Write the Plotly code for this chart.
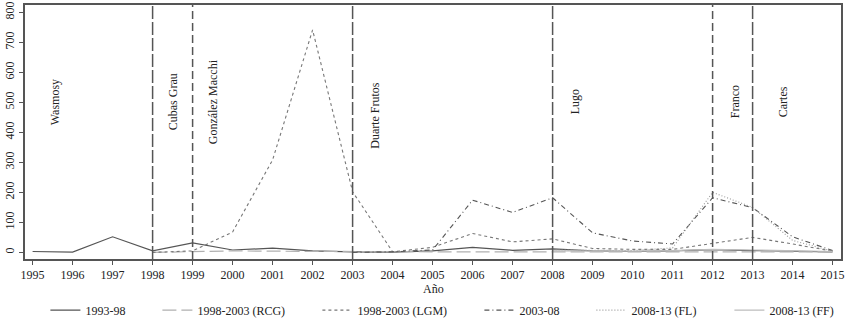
import plotly.graph_objects as go

years = list(range(1995, 2016))

s_1993_98 = [3, 1, 52, 5, 32, 8, 14, 5, 2, 1, 5, 17, 7, 12, 5, 3, 5, 9, 6, 3, 2]
s_rcg_x = list(range(1998, 2016))
s_rcg = [0, 3, 5, 4, 3, 2, 1, 2, 2, 2, 2, 2, 2, 2, 3, 3, 2, 2]
s_lgm_x = list(range(1998, 2016))
s_lgm = [0, 5, 68, 308, 741, 202, 2, 17, 63, 35, 45, 13, 10, 10, 30, 50, 28, 4]
s_0308_x = list(range(2003, 2016))
s_0308 = [0, 2, 8, 174, 133, 182, 65, 38, 28, 182, 149, 52, 6]
s_fl_x = list(range(2008, 2016))
s_fl = [8, 6, 6, 15, 200, 150, 40, 4]
s_ff_x = list(range(2008, 2016))
s_ff = [5, 4, 4, 6, 10, 8, 5, 3]

series_names = ["1993-98", "1998-2003 (RCG)", "1998-2003 (LGM)", "2003-08", "2008-13 (FL)", "2008-13 (FF)"]

break_years = [1998, 1999, 2003, 2008, 2012, 2013]
break_long = [True, False, True, True, False, True]

leaders = ["Wasmosy", "Cubas Grau", "González Macchi", "Duarte Frutos", "Lugo", "Franco", "Cartes"]
leader_x = [1995.56, 1998.51, 1999.51, 2003.56, 2008.56, 2012.56, 2013.76]
leader_y = [500, 500, 500, 455, 500, 500, 500]

yticks = list(range(0, 900, 100))
x_title = "Año"

FONT = "Liberation Serif"

fig = go.Figure()
styles = [
    dict(color="#555555", width=1.2, dash="solid"),
    dict(color="#b0b0b0", width=1.2, dash="14px,5px"),
    dict(color="#777777", width=1.1, dash="3px,3px"),
    dict(color="#555555", width=1.1, dash="5px,3px,1px,3px"),
    dict(color="#999999", width=1.1, dash="1px,2px"),
    dict(color="#bdbdbd", width=1.2, dash="solid"),
]
xs = [years, s_rcg_x, s_lgm_x, s_0308_x, s_fl_x, s_ff_x]
ys = [s_1993_98, s_rcg, s_lgm, s_0308, s_fl, s_ff]
lw = [67, 115, 117, 67, 93, 70]
for name, x, y, st, w in zip(series_names, xs, ys, styles, lw):
    fig.add_trace(go.Scatter(x=x, y=y, mode="lines", name=name, line=st, legendwidth=w))

for yr, lng in zip(break_years, break_long):
    fig.add_shape(type="line", x0=yr, x1=yr, y0=0, y1=1, xref="x", yref="paper",
                  line=dict(color="#555555", width=1.5, dash="13px,3px" if lng else "8px,4px"))

for name, lx, ly in zip(leaders, leader_x, leader_y):
    fig.add_annotation(x=lx, y=ly, text=name, textangle=-90, showarrow=False,
                       font=dict(family=FONT, size=12, color="#222222"))

fig.add_annotation(x=0.5, xref="paper", y=-0.12, yref="paper", yanchor="middle",
                   text=x_title, showarrow=False, font=dict(family=FONT, size=12, color="#222222"))

fig.update_layout(
    width=852, height=322,
    margin=dict(l=25, r=11, t=5, b=63),
    paper_bgcolor="white", plot_bgcolor="white",
    font=dict(family=FONT, size=12, color="#222222"),
    showlegend=True,
    legend=dict(orientation="h", x=0.025, xanchor="left",
                yref="container", y=0.037, yanchor="middle",
                font=dict(family=FONT, size=12, color="#222222"), itemwidth=30,
                bgcolor="rgba(0,0,0,0)"),
    xaxis=dict(range=[1994.81, 2015.21], tickmode="array", tickvals=years,
               ticktext=[str(v) for v in years], ticks="outside", ticklen=4,
               tickcolor="#555555", showgrid=False, zeroline=False,
               showline=True, linecolor="#555555", linewidth=2, mirror=True,
               automargin=False, tickfont=dict(size=12)),
    yaxis=dict(range=[-22, 824], tickmode="array", tickvals=yticks,
               ticks="outside", ticklen=4, tickcolor="#555555", tickangle=-90,
               showgrid=False, zeroline=False, showline=True, linecolor="#555555",
               linewidth=2, mirror=True, automargin=False, tickfont=dict(size=12)),
)

fig.write_html("out.html")
